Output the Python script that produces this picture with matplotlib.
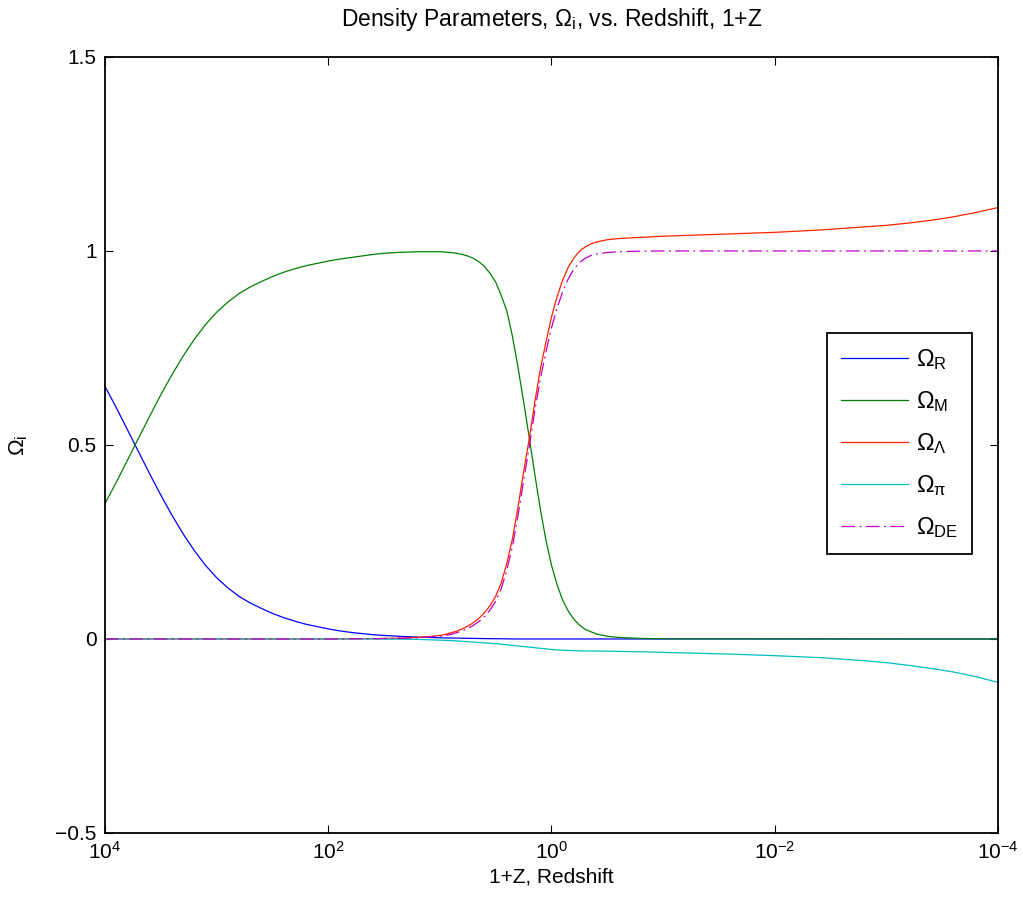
import numpy as np
import matplotlib
matplotlib.use("Agg")
import matplotlib.pyplot as plt

plt.rcParams['font.family'] = ['Liberation Sans', 'DejaVu Sans']
plt.rcParams['mathtext.fontset'] = 'custom'
plt.rcParams['mathtext.rm'] = 'Liberation Sans'
plt.rcParams['mathtext.it'] = 'Liberation Sans'
plt.rcParams['mathtext.default'] = 'regular'

# log10(1+z) exponents and values
lg_R = [4.0, 3.9, 3.8, 3.7, 3.6, 3.5, 3.4, 3.3, 3.2, 3.1, 3.0, 2.9, 2.8, 2.7, 2.6,
        2.5, 2.4, 2.3, 2.2, 2.1, 2.0, 1.9, 1.8, 1.7, 1.6, 1.5, 1.4, 1.3, 1.2, 1.1,
        1.0, 0.8, 0.6, 0.3, -4.0]
om_R = [0.651, 0.597, 0.540, 0.483, 0.426, 0.371, 0.319, 0.271, 0.228, 0.190, 0.158,
        0.132, 0.110, 0.093, 0.079, 0.066, 0.055, 0.046, 0.038, 0.032, 0.026, 0.021,
        0.017, 0.014, 0.011, 0.009, 0.0075, 0.006, 0.005, 0.004, 0.003, 0.002, 0.001,
        0.0, 0.0]

lg_M = [4.0, 3.9, 3.8, 3.7, 3.6, 3.5, 3.4, 3.3, 3.2, 3.1, 3.0, 2.9, 2.8, 2.7, 2.6,
        2.5, 2.4, 2.3, 2.2, 2.1, 2.0, 1.9, 1.8, 1.7, 1.6, 1.5, 1.4, 1.3, 1.2, 1.1,
        1.0, 0.95, 0.9, 0.85, 0.8, 0.75, 0.7, 0.65, 0.6, 0.55, 0.5, 0.45, 0.4, 0.35,
        0.3, 0.25, 0.2, 0.15, 0.1, 0.05, 0.0, -0.05, -0.1, -0.15, -0.2, -0.25, -0.3,
        -0.4, -0.5, -0.6, -0.8, -1.0, -4.0]
om_M = [0.349, 0.403, 0.460, 0.517, 0.574, 0.629, 0.681, 0.729, 0.772, 0.810, 0.842,
        0.868, 0.890, 0.907, 0.921, 0.934, 0.945, 0.954, 0.962, 0.968, 0.974, 0.979,
        0.983, 0.987, 0.991, 0.994, 0.996, 0.997, 0.998, 0.998, 0.998, 0.997, 0.996,
        0.994, 0.991, 0.987, 0.981, 0.972, 0.960, 0.942, 0.920, 0.885, 0.845, 0.780,
        0.700, 0.612, 0.520, 0.425, 0.335, 0.255, 0.190, 0.140, 0.100, 0.072, 0.051,
        0.036, 0.025, 0.013, 0.007, 0.004, 0.0015, 0.0005, 0.0]

lg_L = [4.0, 2.0, 1.8, 1.6, 1.4, 1.2, 1.1, 1.0, 0.95, 0.9, 0.85, 0.8, 0.75, 0.7, 0.65,
        0.6, 0.55, 0.5, 0.45, 0.4, 0.35, 0.3, 0.25, 0.2, 0.15, 0.1, 0.05, 0.0, -0.05,
        -0.1, -0.15, -0.2, -0.25, -0.3, -0.35, -0.4, -0.5, -0.6, -0.8, -1.0, -1.2, -1.4,
        -1.6, -1.8, -2.0, -2.2, -2.4, -2.6, -2.8, -3.0, -3.2, -3.4, -3.6, -3.8, -4.0]
om_L = [0.0, 0.0, 0.0003, 0.0008, 0.002, 0.004, 0.006, 0.009, 0.012, 0.016, 0.020,
        0.026, 0.033, 0.042, 0.053, 0.068, 0.086, 0.110, 0.145, 0.195, 0.258, 0.340,
        0.430, 0.515, 0.610, 0.695, 0.765, 0.830, 0.882, 0.925, 0.958, 0.982, 0.999,
        1.010, 1.018, 1.023, 1.029, 1.032, 1.035, 1.038, 1.040, 1.042, 1.044, 1.046,
        1.048, 1.051, 1.054, 1.058, 1.062, 1.066, 1.072, 1.079, 1.088, 1.099, 1.112]

lg_P = [4.0, 1.6, 1.4, 1.2, 1.0, 0.9, 0.8, 0.7, 0.6, 0.5, 0.4, 0.3, 0.2, 0.1, 0.0,
        -0.1, -0.2, -0.3, -0.4, -0.6, -0.8, -1.0, -1.2, -1.4, -1.6, -1.8, -2.0, -2.2,
        -2.4, -2.6, -2.8, -3.0, -3.2, -3.4, -3.6, -3.8, -4.0]
om_P = [0.0, 0.0, -0.0005, -0.001, -0.003, -0.004, -0.006, -0.008, -0.010, -0.012,
        -0.015, -0.018, -0.021, -0.024, -0.027, -0.029, -0.030, -0.031, -0.031, -0.032,
        -0.033, -0.0345, -0.036, -0.0375, -0.039, -0.041, -0.043, -0.0455, -0.048,
        -0.052, -0.056, -0.061, -0.068, -0.076, -0.085, -0.097, -0.112]

lg_DE = [4.0, 2.0, 1.6, 1.4, 1.2, 1.1, 1.0, 0.95, 0.9, 0.85, 0.8, 0.75, 0.7, 0.65, 0.6,
         0.55, 0.5, 0.45, 0.4, 0.35, 0.3, 0.25, 0.2, 0.15, 0.1, 0.05, 0.0, -0.05, -0.1,
         -0.15, -0.2, -0.25, -0.3, -0.35, -0.4, -0.5, -0.6, -0.8, -1.0, -4.0]
om_DE = [0.0, 0.0, 0.0007, 0.0015, 0.003, 0.005, 0.007, 0.009, 0.012, 0.016, 0.021,
         0.027, 0.035, 0.045, 0.058, 0.075, 0.097, 0.130, 0.178, 0.238, 0.318, 0.408,
         0.494, 0.588, 0.670, 0.740, 0.802, 0.853, 0.895, 0.928, 0.953, 0.970, 0.981,
         0.988, 0.992, 0.996, 0.998, 0.9995, 1.0, 1.0]

fig = plt.figure(figsize=(10.23, 9.07), dpi=100)
ax = fig.add_axes([0.1026, 0.0816, 0.8730, 0.8556])

lw = 0.9
ax.plot(10.0 ** np.array(lg_R), om_R, color='#0000ff', lw=lw, label='Ω$_R$')
ax.plot(10.0 ** np.array(lg_M), om_M, color='#008000', lw=lw, label='Ω$_M$')
ax.plot(10.0 ** np.array(lg_L), om_L, color='#ff2200', lw=lw, label='Ω$_Λ$')
ax.plot(10.0 ** np.array(lg_P), om_P, color='#00bfbf', lw=lw, label='Ω$_π$')
ax.plot(10.0 ** np.array(lg_DE), om_DE, color='#c000c0', lw=lw, dashes=(11, 3.5, 1.5, 3.5),
        label='Ω$_{DE}$')

ax.set_xscale('log')
ax.set_xlim(1e4, 1e-4)
ax.set_ylim(-0.5, 1.5)
ax.set_xticks([1e4, 1e2, 1e0, 1e-2, 1e-4])
ax.xaxis.set_minor_locator(matplotlib.ticker.NullLocator())
ax.set_yticks([-0.5, 0, 0.5, 1, 1.5])
ax.set_yticklabels(['\u22120.5', '0', '0.5', '1', '1.5'])
ax.tick_params(direction='in', top=True, right=True, length=6, width=0.8,
               labelsize=15, pad=6)
for s in ax.spines.values():
    s.set_linewidth(1.3)

ax.set_title('Density Parameters, Ω$_i$, vs. Redshift, 1+Z', fontsize=16.5, pad=22)
ax.set_xlabel('1+Z, Redshift', fontsize=15, labelpad=3)
ax.set_ylabel('Ω$_i$', fontsize=16, labelpad=18)

leg = ax.legend(loc='upper right', bbox_to_anchor=(0.971, 0.644), borderaxespad=0,
                fontsize=17, handlelength=2.8, labelspacing=0.72, handletextpad=0.35,
                borderpad=0.6, fancybox=False, framealpha=1, edgecolor='black')
leg.get_frame().set_linewidth(1.3)

fig.savefig('out.png', dpi=100)
